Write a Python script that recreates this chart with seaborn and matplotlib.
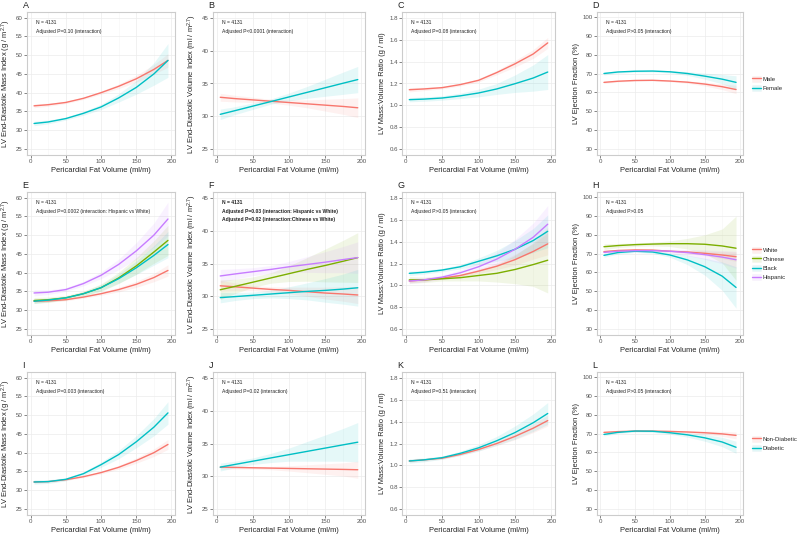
import matplotlib.pyplot as plt
import pandas as pd
import seaborn as sns
from matplotlib.lines import Line2D
from matplotlib.patches import Patch

sns.set_theme(style="whitegrid")
plt.rcParams["font.family"] = ["Liberation Sans", "DejaVu Sans"]
plt.rcParams["mathtext.default"] = "regular"

# pericardial fat volume grid the fitted curves were read at
pfv = [5, 25, 50, 75, 100, 125, 150, 175, 195]

sex_groups = ["Male", "Female"]
race_groups = ["White", "Chinese", "Black", "Hispanic"]
dm_groups = ["Non-Diabetic", "Diabetic"]

sex_colors = ["#F8766D", "#00BFC4"]
race_colors = ["#F8766D", "#7CAE00", "#00BFC4", "#C77CFF"]
dm_colors = ["#F8766D", "#00BFC4"]

# row 1: by sex
a_fit = {"Male": [36.5, 36.8, 37.4, 38.5, 40.0, 41.7, 43.7, 46.2, 48.6],
         "Female": [31.8, 32.2, 33.1, 34.5, 36.2, 38.6, 41.4, 45.0, 48.6]}
a_ci = {"Male": [0.5, 0.4, 0.3, 0.3, 0.4, 0.6, 0.9, 1.3, 1.8],
        "Female": [0.6, 0.5, 0.4, 0.5, 0.7, 1.1, 1.8, 3.0, 4.5]}
b_fit = {"Male": [32.9, 32.7, 32.5, 32.3, 32.1, 31.9, 31.7, 31.5, 31.3],
         "Female": [30.3, 30.85, 31.55, 32.25, 32.95, 33.65, 34.35, 35.05, 35.6]}
b_ci = {"Male": [0.6, 0.5, 0.4, 0.3, 0.4, 0.6, 0.9, 1.2, 1.5],
        "Female": [0.8, 0.6, 0.5, 0.4, 0.6, 0.9, 1.3, 1.7, 2.0]}
c_fit = {"Male": [1.143, 1.15, 1.162, 1.19, 1.229, 1.30, 1.38, 1.47, 1.572],
         "Female": [1.052, 1.057, 1.067, 1.087, 1.113, 1.15, 1.198, 1.25, 1.305]}
c_ci = {"Male": [0.02, 0.015, 0.012, 0.012, 0.015, 0.02, 0.03, 0.04, 0.05],
        "Female": [0.02, 0.02, 0.02, 0.025, 0.035, 0.05, 0.08, 0.12, 0.16]}
d_fit = {"Male": [65.3, 65.9, 66.3, 66.4, 66.0, 65.4, 64.4, 63.0, 61.5],
         "Female": [70.0, 70.8, 71.2, 71.3, 70.9, 70.0, 68.6, 67.0, 65.3]}
d_ci = {"Male": [0.6, 0.4, 0.3, 0.3, 0.4, 0.6, 1.0, 1.5, 2.2],
        "Female": [0.8, 0.6, 0.5, 0.5, 0.6, 1.0, 1.6, 2.5, 3.5]}

# row 2: by race/ethnicity
e_fit = {"White": [32.4, 32.5, 32.8, 33.5, 34.4, 35.5, 36.9, 38.7, 40.6],
         "Chinese": [32.6, 32.8, 33.3, 34.4, 36.0, 38.6, 41.8, 45.5, 48.6],
         "Black": [32.4, 32.7, 33.3, 34.4, 36.0, 38.4, 41.3, 44.6, 47.5],
         "Hispanic": [34.6, 34.8, 35.5, 37.1, 39.3, 42.2, 45.8, 50.0, 54.3]}
e_ci = {"White": [0.4, 0.3, 0.3, 0.3, 0.4, 0.6, 0.8, 1.1, 1.5],
        "Chinese": [0.8, 0.7, 0.6, 0.7, 1.0, 1.5, 2.2, 3.0, 4.0],
        "Black": [0.6, 0.5, 0.4, 0.5, 0.8, 1.2, 1.8, 2.6, 3.5],
        "Hispanic": [0.8, 0.6, 0.5, 0.6, 0.9, 1.4, 2.2, 3.2, 4.5]}
f_fit = {"White": [31.6, 31.45, 31.25, 31.05, 30.9, 30.7, 30.5, 30.35, 30.2],
         "Chinese": [31.0, 31.5, 32.15, 32.8, 33.45, 34.1, 34.7, 35.35, 35.9],
         "Black": [29.8, 29.95, 30.15, 30.35, 30.55, 30.75, 30.9, 31.1, 31.3],
         "Hispanic": [33.1, 33.4, 33.75, 34.1, 34.5, 34.85, 35.2, 35.6, 35.9]}
f_ci = {"White": [0.8, 0.6, 0.4, 0.4, 0.5, 0.7, 0.9, 1.1, 1.3],
        "Chinese": [1.5, 1.1, 0.8, 0.8, 1.2, 1.8, 2.5, 3.2, 3.8],
        "Black": [0.8, 0.6, 0.5, 0.6, 0.9, 1.3, 1.8, 2.3, 2.8],
        "Hispanic": [1.0, 0.8, 0.6, 0.6, 0.8, 1.2, 1.6, 2.0, 2.4]}
g_fit = {"White": [1.04, 1.05, 1.065, 1.09, 1.13, 1.175, 1.235, 1.31, 1.38],
         "Chinese": [1.05, 1.05, 1.06, 1.07, 1.09, 1.11, 1.145, 1.19, 1.23],
         "Black": [1.11, 1.12, 1.14, 1.17, 1.22, 1.27, 1.33, 1.41, 1.495],
         "Hispanic": [1.04, 1.05, 1.075, 1.115, 1.17, 1.24, 1.33, 1.44, 1.56]}
g_ci = {"White": [0.015, 0.012, 0.01, 0.012, 0.02, 0.03, 0.05, 0.07, 0.1],
        "Chinese": [0.03, 0.025, 0.02, 0.03, 0.05, 0.08, 0.13, 0.2, 0.3],
        "Black": [0.02, 0.018, 0.015, 0.02, 0.03, 0.05, 0.08, 0.11, 0.15],
        "Hispanic": [0.025, 0.02, 0.018, 0.025, 0.04, 0.06, 0.09, 0.13, 0.17]}
h_fit = {"White": [71.0, 71.6, 71.9, 71.8, 71.2, 70.8, 70.1, 69.2, 68.3],
         "Chinese": [73.6, 74.2, 74.7, 75.0, 75.2, 75.2, 74.9, 74.0, 72.8],
         "Black": [69.0, 70.5, 71.2, 70.8, 69.2, 66.6, 63.0, 58.0, 52.0],
         "Hispanic": [70.6, 71.2, 71.5, 71.5, 71.2, 70.5, 69.4, 68.1, 66.7]}
h_ci = {"White": [0.6, 0.5, 0.4, 0.4, 0.5, 0.8, 1.2, 1.8, 2.5],
        "Chinese": [1.5, 1.1, 0.9, 1.0, 1.5, 2.8, 5.0, 9.0, 17.0],
        "Black": [1.0, 0.8, 0.6, 0.7, 1.2, 2.5, 4.5, 7.5, 11.0],
        "Hispanic": [1.0, 0.8, 0.6, 0.7, 1.0, 1.6, 2.5, 3.5, 4.5]}

# row 3: by diabetes status
i_fit = {"Non-Diabetic": [32.2, 32.3, 32.8, 33.6, 34.7, 36.1, 37.9, 40.0, 42.2],
         "Diabetic": [32.2, 32.3, 32.9, 34.4, 36.8, 39.5, 42.9, 46.8, 50.6]}
i_ci = {"Non-Diabetic": [0.3, 0.25, 0.2, 0.25, 0.35, 0.5, 0.7, 1.0, 1.3],
        "Diabetic": [0.6, 0.5, 0.4, 0.5, 0.7, 1.1, 1.6, 2.3, 3.0]}
j_fit = {"Non-Diabetic": [31.4, 31.35, 31.3, 31.25, 31.2, 31.15, 31.1, 31.05, 31.0],
         "Diabetic": [31.4, 31.8, 32.3, 32.8, 33.3, 33.8, 34.3, 34.8, 35.2]}
j_ci = {"Non-Diabetic": [0.3, 0.25, 0.2, 0.25, 0.4, 0.6, 0.8, 1.0, 1.3],
        "Diabetic": [0.6, 0.5, 0.5, 0.7, 1.0, 1.5, 2.0, 2.5, 3.0]}
k_fit = {"Non-Diabetic": [1.04, 1.05, 1.065, 1.10, 1.145, 1.20, 1.265, 1.34, 1.41],
         "Diabetic": [1.04, 1.05, 1.07, 1.11, 1.16, 1.225, 1.30, 1.39, 1.475]}
k_ci = {"Non-Diabetic": [0.01, 0.01, 0.008, 0.01, 0.012, 0.02, 0.03, 0.04, 0.05],
        "Diabetic": [0.02, 0.018, 0.015, 0.02, 0.03, 0.04, 0.06, 0.08, 0.1]}
l_fit = {"Non-Diabetic": [70.6, 71.0, 71.3, 71.3, 71.1, 70.8, 70.4, 69.8, 69.0],
         "Diabetic": [69.5, 70.6, 71.3, 71.2, 70.4, 69.3, 67.7, 65.5, 62.7]}
l_ci = {"Non-Diabetic": [0.4, 0.3, 0.25, 0.3, 0.4, 0.6, 0.9, 1.3, 1.8],
        "Diabetic": [0.8, 0.6, 0.5, 0.6, 0.8, 1.2, 1.8, 2.5, 3.2]}

mass_label = "LV End-Diastolic Mass Index (g / m$^{2.7}$)"
vol_label = "LV End-Diastolic Volume Index (ml / m$^{2.7}$)"
ratio_label = "LV Mass:Volume Ratio (g / ml)"
ef_label = "LV Ejection Fraction (%)"

outcome = {
    "mass": (mass_label, (23.4, 61.5), [25, 30, 35, 40, 45, 50, 55, 60]),
    "vol": (vol_label, (24.1, 45.9), [25, 30, 35, 40, 45]),
    "ratio": (ratio_label, (0.545, 1.855), [0.6, 0.8, 1.0, 1.2, 1.4, 1.6, 1.8]),
    "ef": (ef_label, (26.8, 102.6), [30, 40, 50, 60, 70, 80, 90, 100]),
}

panels = [
    ("A", a_fit, a_ci, sex_groups, sex_colors, "mass", ["N = 4131", "Adjusted P=0.10 (interaction)"]),
    ("B", b_fit, b_ci, sex_groups, sex_colors, "vol", ["N = 4131", "Adjusted P<0.0001 (interaction)"]),
    ("C", c_fit, c_ci, sex_groups, sex_colors, "ratio", ["N = 4131", "Adjusted P=0.08 (interaction)"]),
    ("D", d_fit, d_ci, sex_groups, sex_colors, "ef", ["N = 4131", "Adjusted P>0.05 (interaction)"]),
    ("E", e_fit, e_ci, race_groups, race_colors, "mass",
     ["N = 4131", "Adjusted P=0.0002 (interaction: Hispanic vs White)"]),
    ("F", f_fit, f_ci, race_groups, race_colors, "vol",
     ["N = 4131", "Adjusted P=0.03 (interaction: Hispanic vs White)",
      "Adjusted P=0.02 (interaction:Chinese vs White)"]),
    ("G", g_fit, g_ci, race_groups, race_colors, "ratio", ["N = 4131", "Adjusted P>0.05 (interaction)"]),
    ("H", h_fit, h_ci, race_groups, race_colors, "ef", ["N = 4131", "Adjusted P>0.05"]),
    ("I", i_fit, i_ci, dm_groups, dm_colors, "mass", ["N = 4131", "Adjusted P=0.003 (interaction)"]),
    ("J", j_fit, j_ci, dm_groups, dm_colors, "vol", ["N = 4131", "Adjusted P=0.02 (interaction)"]),
    ("K", k_fit, k_ci, dm_groups, dm_colors, "ratio", ["N = 4131", "Adjusted P=0.51 (interaction)"]),
    ("L", l_fit, l_ci, dm_groups, dm_colors, "ef", ["N = 4131", "Adjusted P>0.05 (interaction)"]),
]

W, H = 800, 534
col_x = [(27, 148), (213, 152), (402, 153), (597, 146)]
row_top = [12, 192, 372]
ax_h = 143

fig = plt.figure(figsize=(8, 5.34), dpi=100)

for idx, (letter, fit, ci, groups, colors, key, notes) in enumerate(panels):
    r, c = divmod(idx, 4)
    left, width = col_x[c]
    top = row_top[r]
    ax = fig.add_axes([left / W, 1 - (top + ax_h) / H, width / W, ax_h / H])

    rows = []
    for g in groups:
        for x, y in zip(pfv, fit[g]):
            rows.append({"pfv": x, "value": y, "group": g})
    df = pd.DataFrame(rows)

    for g, col in zip(groups, colors):
        lo = [v - e for v, e in zip(fit[g], ci[g])]
        hi = [v + e for v, e in zip(fit[g], ci[g])]
        ax.fill_between(pfv, lo, hi, color=col, alpha=0.1, linewidth=0)
    sns.lineplot(data=df, x="pfv", y="value", hue="group", hue_order=groups,
                 palette=colors, linewidth=1.0, legend=False, ax=ax)

    ylabel, ylim, yticks = outcome[key]
    ax.set_xlim(-5, 205)
    ax.set_ylim(*ylim)
    ax.set_xticks([0, 50, 100, 150, 200])
    ax.set_xticks([25, 75, 125, 175], minor=True)
    ax.set_yticks(yticks)
    ax.yaxis.set_major_formatter(plt.FormatStrFormatter("%.1f" if key == "ratio" else "%d"))
    ax.set_xlabel("Pericardial Fat Volume (ml/m)", fontsize=5.4, labelpad=2, color="#222222")
    ax.set_ylabel(ylabel, fontsize=5.4, labelpad=2, color="#222222")
    ax.tick_params(axis="both", which="major", labelsize=4.4, length=2, width=0.5,
                   pad=1, colors="#555555", left=True, bottom=True)
    ax.tick_params(which="minor", length=0)
    ax.grid(True, which="major", color="#ECECEC", linewidth=0.5)
    ax.grid(True, which="minor", color="#F6F6F6", linewidth=0.4)
    ax.set_facecolor("white")
    for sp in ax.spines.values():
        sp.set_color("#CCCCCC")
        sp.set_linewidth(0.8)

    bold = letter == "F"
    for k, line in enumerate(notes):
        ax.text(0.06, 0.925 - k * 0.058, line, transform=ax.transAxes, fontsize=3.6,
                ha="left", va="center", color="#222222",
                fontweight="bold" if bold else "normal")
    ax.text(-0.03, 1.015, letter, transform=ax.transAxes, fontsize=6.5,
            ha="left", va="bottom", color="#222222")

    if c == 3:
        handles = [(Patch(facecolor=col, alpha=0.12, edgecolor="#DDDDDD", linewidth=0.5),
                    Line2D([], [], color=col, linewidth=1.0)) for col in colors]
        ax.legend(handles, groups, loc="center left", bbox_to_anchor=(1.04, 0.5),
                  frameon=False, fontsize=4.3, handlelength=1.4, handleheight=1.2,
                  labelspacing=0.5, handletextpad=0.35, borderaxespad=0.2)

fig.savefig("out.png", dpi=100)
